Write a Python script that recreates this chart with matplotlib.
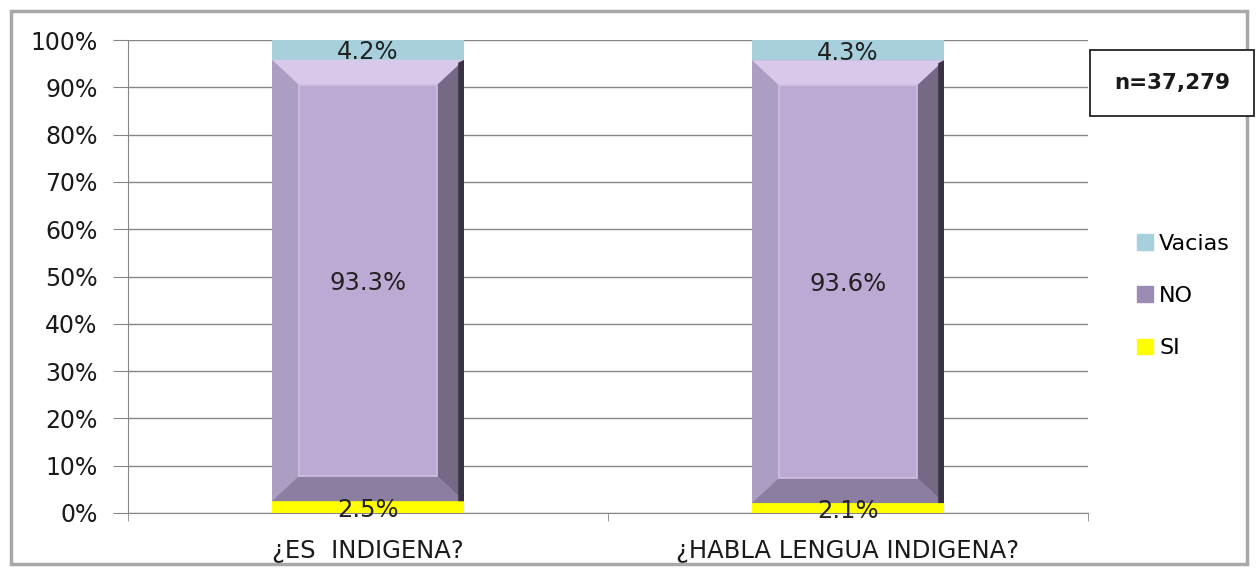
import matplotlib.pyplot as plt
from matplotlib.patches import Polygon, Rectangle
from matplotlib.ticker import PercentFormatter

plt.rcParams['font.family'] = ['DejaVu Sans']

# data
categorias = ['¿ES  INDIGENA?', '¿HABLA LENGUA INDIGENA?']
si = [2.5, 2.1]
no = [93.3, 93.6]
vacias = [4.2, 4.3]

c_si = '#FFFF00'
c_no = '#BCA9D4'
c_vac = '#A8CFDC'
fs = 17.5

fig = plt.figure(figsize=(12.58, 5.75), dpi=100)
ax = fig.add_axes([128 / 1258, 1 - 513 / 575, 960 / 1258, 473 / 575])

x = range(len(categorias))
w = 0.4
b_si = ax.bar(x, si, w, color=c_si, zorder=3)
b_no = ax.bar(x, no, w, bottom=si, color=c_no, zorder=3)
bottoms = [a + b for a, b in zip(si, no)]
b_vac = ax.bar(x, vacias, w, bottom=bottoms, color=c_vac, zorder=3)

# bevel on the NO segment
bx, by = 0.056, 5.3
for p in b_no:
    x0, y0 = p.get_x(), p.get_y()
    x1, y1 = x0 + p.get_width(), y0 + p.get_height()
    ax.add_patch(Polygon([(x0, y1), (x1, y1), (x1 - bx, y1 - by), (x0 + bx, y1 - by)],
                         color='#D8C8EA', zorder=4, lw=0))
    ax.add_patch(Polygon([(x0, y0), (x0, y1), (x0 + bx, y1 - by), (x0 + bx, y0 + by)],
                         color='#AC9DC2', zorder=4, lw=0))
    ax.add_patch(Polygon([(x1, y0), (x1, y1), (x1 - bx, y1 - by), (x1 - bx, y0 + by)],
                         color='#756985', zorder=4, lw=0))
    ax.add_patch(Polygon([(x0, y0), (x1, y0), (x1 - bx, y0 + by), (x0 + bx, y0 + by)],
                         color='#8C7EA0', zorder=4, lw=0))
    ax.add_patch(Polygon([(x1 - 0.012, y0), (x1, y0), (x1, y1), (x1 - 0.012, y1 - 0.6)],
                         color='#3A3344', zorder=4, lw=0))
    ax.add_patch(Rectangle((x0 + bx, y0 + by), x1 - x0 - 2 * bx, y1 - y0 - 2 * by,
                           fill=False, ec='#CFC0E2', lw=1.2, zorder=5))

# labels
for bars, vals in [(b_si, si), (b_no, no), (b_vac, vacias)]:
    for p, v in zip(bars, vals):
        ax.text(p.get_x() + p.get_width() / 2, p.get_y() + p.get_height() / 2,
                f'{v:.1f}%', ha='center', va='center_baseline', fontsize=fs,
                color='#222222', zorder=6)

ax.set_xlim(-0.5, 1.5)
ax.set_ylim(0, 100)
ax.set_yticks(range(0, 101, 10))
ax.yaxis.set_major_formatter(PercentFormatter(decimals=0))
ax.set_xticks(list(x))
ax.set_xticklabels(categorias)
ax.set_xticks([-0.5, 0.5, 1.5], minor=True)
ax.tick_params(axis='x', which='major', length=0, pad=19, labelsize=fs, labelcolor='#1a1a1a')
ax.tick_params(axis='x', which='minor', length=6, color='#868686', direction='out')
ax.tick_params(axis='y', length=11, color='#868686', labelsize=17, labelcolor='#1a1a1a', pad=11)
ax.grid(axis='y', color='#868686', lw=1, zorder=0)
for s in ['top', 'right']:
    ax.spines[s].set_visible(False)
ax.spines['left'].set_color('#868686')
ax.spines['bottom'].set_color('#868686')

# legend
hs = [Rectangle((0, 0), 1, 1, color=c) for c in (c_vac, '#9C8BB2', c_si)]
fig.legend(hs, ['Vacias', 'NO', 'SI'], loc='center left',
           bbox_to_anchor=(1117 / 1258, 1 - 296 / 575), frameon=False,
           fontsize=16, handlelength=0.7, handleheight=0.7, handletextpad=0.3,
           labelspacing=1.45)

# outer frame
fig.patches.append(Rectangle((11 / 1258, 11 / 575), 1236 / 1258, 553 / 575,
                             fill=False, ec='#A8A8A8', lw=2.5,
                             transform=fig.transFigure, figure=fig))

# n box
fig.patches.append(Rectangle((1090 / 1258, 1 - 116 / 575), 164 / 1258, 66 / 575,
                             fc='white', ec='#222222', lw=1.3,
                             transform=fig.transFigure, figure=fig, zorder=5))
fig.text(1172 / 1258, 1 - 83 / 575, 'n=37,279', ha='center', va='center',
         fontsize=15.5, fontweight='bold', color='#1a1a1a', zorder=6)

fig.savefig('out.png', dpi=100, facecolor='white')
